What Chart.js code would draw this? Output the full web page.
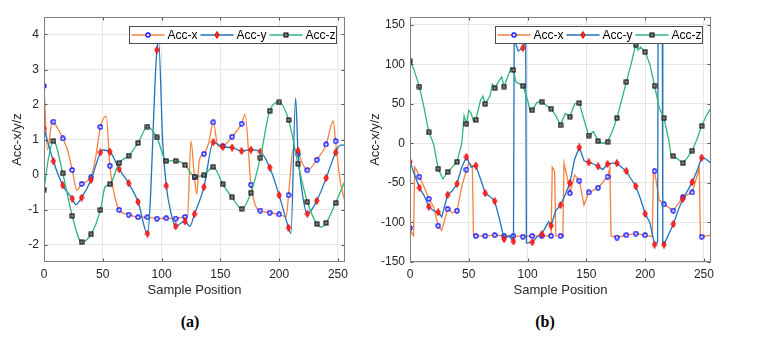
<!DOCTYPE html>
<html>
<head>
<meta charset="utf-8">
<script src="https://cdn.jsdelivr.net/npm/chart.js@4.4.1/dist/chart.umd.min.js"></script>
<style>
  body { margin: 0; background: #fff; width: 783px; height: 338px; overflow: hidden; position: relative; }
  #wrapA { position: absolute; left: 0; top: 0; width: 392px; height: 302px; }
  #wrapB { position: absolute; left: 362px; top: 0; width: 421px; height: 302px; }
  .cap { position: absolute; top: 313px; line-height: 18px; font-family: "Liberation Serif", "Times New Roman", serif;
         font-weight: bold; font-size: 16px; color: #000; transform: translateX(-50%); }
</style>
</head>
<body>
<div id="wrapA"><canvas id="chartA" width="392" height="302"></canvas></div>
<div id="wrapB"><canvas id="chartB" width="421" height="302"></canvas></div>
<div class="cap" style="left:190px">(a)</div>
<div class="cap" style="left:545px">(b)</div>
<script>
// readings [sample position, value], markers sit on every 8th sample
// panel (a)
var aAccX = [[0,2.53],[3,0.7],[7,1.53],[8,1.51],[12,1.3],[16,1.03],[20,0.7],[24,0.13],[28,-0.45],[32,-0.27],[36,-0.2],
    [40,-0.08],[44,0.5],[48,1.36],[53,1.67],[56,0.25],[60,-0.6],[64,-1.01],[72,-1.15],[80,-1.22],[88,-1.22],[96,-1.26],
    [104,-1.25],[112,-1.26],[120,-1.21],[122,-1.2],[125,0.95],[128,-0.08],[130,-0.56],[132,0.4],[136,0.59],[140,0.9],
    [144,1.49],[148,0.8],[152,0.81],[160,1.08],[168,1.45],[171,1.72],[176,-0.29],[180,-0.9],[184,-1.03],[192,-1.09],
    [200,-1.14],[206,-1.21],[208,-0.59],[212,0.74],[216,0.58],[224,0.12],[232,0.42],[240,0.86],[246,1.53],[248,0.95],
    [252,-0.2],[256,-0.78]];
var aAccY = [[0,1.32],[8,0.38],[16,-0.31],[24,-0.69],[27,-0.86],[32,-0.66],[40,-0.15],[48,0.63],[50,0.7],[56,0.65],
    [64,0.15],[72,-0.25],[80,-0.78],[88,-1.69],[96,3.56],[97.5,3.8],[101,0.9],[104,-0.32],[108,-1.1],[112,-1.48],
    [116,-1.4],[120,-1.34],[124,-1.48],[128,-1.13],[136,-0.36],[144,0.92],[152,0.79],[160,0.77],[168,0.67],[176,0.71],
    [184,0.65],[192,0.2],[200,-0.59],[208,-1.52],[210,-1.69],[214,2.18],[216,0.68],[220,-0.6],[224,-1.12],[232,-0.75],
    [240,-0.1],[248,0.63],[252,0.84],[256,0.84]];
var aAccZ = [[0,-0.43],[4,0.5],[8,0.96],[16,0.03],[24,-1.18],[32,-1.93],[40,-1.71],[48,-1.01],[52,-0.35],[56,-0.28],
    [64,0.33],[72,0.54],[80,0.9],[88,1.37],[96,1.06],[104,0.39],[112,0.39],[120,0.27],[128,-0.06],[136,-0.02],[144,0.22],
    [152,-0.28],[160,-0.65],[168,-0.98],[176,-0.52],[184,0.48],[192,1.82],[200,2.06],[208,1.56],[216,0.31],[224,-0.78],
    [232,-1.41],[236,-1.5],[240,-1.38],[248,-0.81],[256,-0.18]];

// panel (b)
var bAccX = [[0,-107],[2,-115],[3,-117],[4,-30],[6,-35],[8,-42],[12,-55],[16,-70],[20,-80],[24,-104],[27,-110],[32,-83],
    [36,-88],[40,-85],[44,-55],[48,-33],[50,-25],[53,-28],[54,-117],[56,-117],[64,-117],[72,-116],[80,-117],[88,-117],
    [96,-118],[104,-117],[112,-117],[120,-117],[121,-30],[123,-35],[124,-117],[128,-117],[130,-117],[131,-25],[134,-45],
    [136,-63],[140,-40],[144,-47],[148,-78],[152,-62],[160,-56],[168,-42],[170,-31],[171,-117],[176,-119],[184,-116],
    [192,-114],[200,-116],[206,-118],[207,-35],[208,-35],[212,-72],[216,-77],[224,-85],[232,-68],[240,-62],[246,-31],
    [247,-118],[248,-118],[256,-116]];
var bAccY = [[0,-23],[4,-40],[8,-56],[12,-66],[16,-80],[20,-85],[24,-87],[27,-93],[32,-65],[36,-60],[40,-51],[44,-30],
    [48,-17],[52,-30],[56,-28],[60,-45],[64,-63],[68,-67],[72,-73],[76,-95],[80,-121],[84,-117],[88,-124],[88.6,132],
    [92,117],[96,121],[98.4,130],[99,-126],[104,-125],[108,-118],[112,-115],[116,-104],[118,-99],[120,-104],[124,-85],
    [128,-78],[132,-65],[136,-50],[140,-20],[144,-5],[148,-22],[152,-24],[156,-26],[160,-29],[164,-33],[168,-26],
    [172,-25],[176,-25],[180,-30],[184,-35],[188,-45],[192,-54],[196,-70],[200,-89],[204,-100],[208,-128],[210.6,-125],
    [211,140],[214.6,140],[215,-128],[216,-128],[220,-115],[224,-102],[228,-85],[232,-70],[236,-60],[240,-49],[244,-35],
    [248,-18],[252,-20],[256,-25]];
var bAccZ = [[0,104],[3,95],[8,72],[12,45],[16,14],[20,0],[24,-32],[28,-45],[32,-36],[36,-30],[40,-23],[44,0],[46,35],
    [48,25],[50,42],[52,38],[54,28],[56,30],[60,55],[62,60],[64,50],[68,60],[70,75],[72,70],[76,80],[78,84],[80,72],
    [84,88],[86,96],[88,93],[90,78],[96,73],[100,55],[102,42],[104,42],[108,52],[112,53],[116,48],[120,44],[124,35],
    [128,23],[132,38],[136,34],[140,50],[144,51],[148,30],[150,20],[152,10],[156,15],[160,3],[164,0],[168,2],[172,15],
    [176,32],[180,55],[184,78],[188,100],[192,125],[194,118],[196,122],[200,116],[204,100],[208,73],[212,45],[216,32],
    [220,5],[222,-15],[224,-16],[228,-20],[232,-25],[236,-18],[240,-9],[244,5],[248,22],[252,35],[256,45]];

var seriesNames = ['Acc-x', 'Acc-y', 'Acc-z'];
var xTicks = [0, 50, 100, 150, 200, 250];
var aYTicks = [-2, -1, 0, 1, 2, 3, 4];
var bYTicks = [-150, -100, -50, 0, 50, 100, 150];

var lineColors = ['#f7803f', '#1f74ba', '#2fb67c'];
var FONT = '"Liberation Sans", Arial, sans-serif';

function makeMarker(kind) {
    var c = document.createElement('canvas');
    var g;
    if (kind === 'circle') {
        c.width = 6; c.height = 6; g = c.getContext('2d');
        g.beginPath(); g.arc(3, 3, 2.1, 0, Math.PI * 2);
        g.fillStyle = '#dcdcff'; g.fill();
        g.lineWidth = 1.1; g.strokeStyle = '#0000ff'; g.stroke();
    } else if (kind === 'diamond') {
        c.width = 6; c.height = 8; g = c.getContext('2d');
        g.beginPath(); g.moveTo(3, 0.5); g.lineTo(5.2, 4); g.lineTo(3, 7.5); g.lineTo(0.8, 4); g.closePath();
        g.fillStyle = '#ff2a2a'; g.fill();
        g.lineWidth = 0.9; g.strokeStyle = '#e00000'; g.stroke();
    } else {
        c.width = 6; c.height = 6; g = c.getContext('2d');
        g.fillStyle = '#858585'; g.fillRect(1, 1, 4, 4);
        g.lineWidth = 1; g.strokeStyle = '#000'; g.strokeRect(1, 1, 4, 4);
    }
    return c;
}
var markers = [makeMarker('circle'), makeMarker('diamond'), makeMarker('square')];

function toPoints(pairs) {
    var pts = [];
    for (var i = 0; i < pairs.length; ++i) pts.push({x: pairs[i][0], y: pairs[i][1]});
    return pts;
}

function makeSet(k, pairs, smooth) {
    return {
        label: seriesNames[k],
        data: toPoints(pairs),
        borderColor: lineColors[k],
        backgroundColor: lineColors[k],
        borderWidth: 1.3,
        tension: 0,
        cubicInterpolationMode: smooth ? 'monotone' : 'default',
        pointStyle: markers[k],
        pointRadius: function (ctx) {
            var p = ctx.raw;
            return (p && p.x % 8 === 0 && p.x < 256) ? 3 : 0;
        },
        pointHoverRadius: 0,
        order: 3 - k
    };
}

// box round the axes, inner ticks, and the legend inside the top right corner
function framePlugin(yTicks) {
    return {
        id: 'frame',
        afterDraw: function (chart) {
            var a = chart.chartArea, ctx = chart.ctx;
            var L = Math.round(a.left) + 0.5, R = Math.round(a.right) - 0.5;
            var T = Math.round(a.top) + 0.5, B = Math.round(a.bottom) - 0.5;
            ctx.save();
            ctx.lineWidth = 1;
            ctx.strokeStyle = '#555';
            ctx.beginPath();
            xTicks.forEach(function (v) {
                var px = Math.round(chart.scales.x.getPixelForValue(v)) + 0.5;
                ctx.moveTo(px, B); ctx.lineTo(px, B - 3);
                ctx.moveTo(px, T); ctx.lineTo(px, T + 3);
            });
            yTicks.forEach(function (v) {
                var py = Math.round(chart.scales.y.getPixelForValue(v)) + 0.5;
                ctx.moveTo(L, py); ctx.lineTo(L + 3, py);
                ctx.moveTo(R, py); ctx.lineTo(R - 3, py);
            });
            ctx.stroke();
            ctx.strokeStyle = '#7f7f7f';
            ctx.strokeRect(L, T, R - L, B - T);

            var bw = 207, bh = 17;
            var bx = Math.round(a.right - 9 - bw) + 0.5, by = Math.round(a.top + 9) + 0.5;
            ctx.fillStyle = '#fff';
            ctx.fillRect(bx, by, bw, bh);
            ctx.strokeStyle = '#4d4d4d';
            ctx.strokeRect(bx, by, bw, bh);
            var cy = by + bh / 2;
            ctx.font = '12px ' + FONT;
            ctx.textBaseline = 'middle';
            for (var k = 0; k < 3; ++k) {
                var x0 = bx + 2 + k * 69;
                ctx.strokeStyle = lineColors[k];
                ctx.lineWidth = 1.3;
                ctx.beginPath(); ctx.moveTo(x0, cy); ctx.lineTo(x0 + 33, cy); ctx.stroke();
                var m = markers[k];
                ctx.drawImage(m, x0 + 16.5 - m.width / 2, cy - m.height / 2);
                ctx.fillStyle = '#000';
                ctx.fillText(seriesNames[k], x0 + 36, cy + 0.5);
            }
            ctx.restore();
        }
    };
}

function makeChart(id, sets, yMin, yMax, yTicks, yWidth, padRight, titlePad) {
    return new Chart(document.getElementById(id).getContext('2d'), {
        type: 'line',
        data: {datasets: sets},
        options: {
            responsive: false,
            animation: false,
            events: [],
            layout: {padding: {left: 0, right: padRight, top: 17, bottom: 0}},
            plugins: {legend: {display: false}, tooltip: {enabled: false}},
            scales: {
                x: {
                    type: 'linear', min: 0, max: 256,
                    afterBuildTicks: function (s) { s.ticks = xTicks.map(function (v) { return {value: v}; }); },
                    afterFit: function (s) { s.height = 40; },
                    grid: {color: '#e6e6e6', drawTicks: false},
                    border: {display: false},
                    ticks: {padding: 5, color: '#262626', font: {family: FONT, size: 12}, maxRotation: 0, autoSkip: false,
                            callback: function (v) { return String(v); }},
                    title: {display: true, text: 'Sample Position', color: '#262626',
                            font: {family: FONT, size: 13}, padding: {top: 0, bottom: 4}}
                },
                y: {
                    type: 'linear', min: yMin, max: yMax,
                    afterBuildTicks: function (s) { s.ticks = yTicks.map(function (v) { return {value: v}; }); },
                    afterFit: function (s) { s.width = yWidth; },
                    grid: {color: '#e6e6e6', drawTicks: false},
                    border: {display: false},
                    ticks: {padding: 5, color: '#262626', font: {family: FONT, size: 12}, autoSkip: false,
                            callback: function (v) { return String(v); }},
                    title: {display: true, text: 'Acc-x/y/z', color: '#262626',
                            font: {family: FONT, size: 13}, padding: {top: titlePad, bottom: 0}}
                }
            }
        },
        plugins: [framePlugin(yTicks)]
    });
}

makeChart('chartA', [makeSet(0, aAccX, true), makeSet(1, aAccY, true), makeSet(2, aAccZ, true)],
    -2.5, 4.5, aYTicks, 44, 47, 10);
makeChart('chartB', [makeSet(0, bAccX, false), makeSet(1, bAccY, false), makeSet(2, bAccZ, false)],
    -150, 160, bYTicks, 48, 72, 6);
</script>
</body>
</html>
